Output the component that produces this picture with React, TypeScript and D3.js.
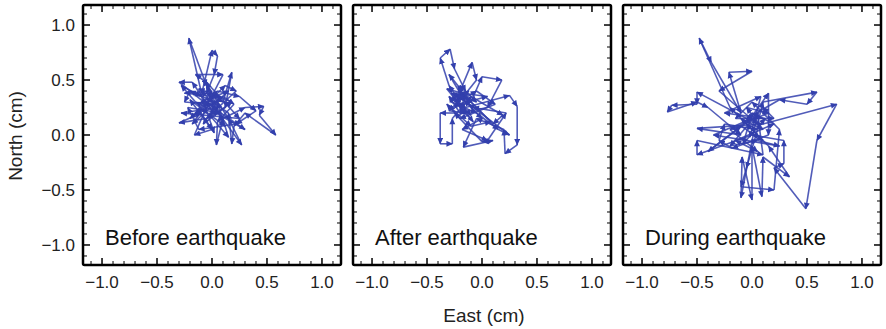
import React from "react";
import * as d3 from "d3";

const panelTitles = ["Before earthquake", "After earthquake", "During earthquake"];
const tickValues = [-1.0, -0.5, 0.0, 0.5, 1.0];
const tickLabels = ["\u22121.0", "\u22120.5", "0.0", "0.5", "1.0"];

const beforePts: [number, number][] = [
  [0.0, 0.3], [-0.1, 0.4], [-0.21, 0.88], [-0.05, 0.45], [0.05, 0.2], [-0.15, 0.3], [-0.28, 0.45],
  [-0.1, 0.35], [0.0, 0.77], [0.05, 0.72], [0.02, 0.55], [-0.05, 0.38], [0.1, 0.3], [0.18, 0.57],
  [0.12, 0.25], [-0.05, 0.15], [-0.3, 0.11], [-0.1, 0.2], [0.0, 0.05], [-0.16, 0.0], [-0.05, 0.25],
  [0.1, 0.35], [0.2, 0.28], [0.05, 0.12], [0.04, -0.09], [0.1, 0.15], [0.3, 0.25], [0.47, 0.26],
  [0.43, 0.18], [0.58, 0.0], [0.3, 0.2], [0.2, 0.08], [0.18, -0.08], [0.15, 0.2], [-0.02, 0.32],
  [-0.2, 0.4], [-0.25, 0.3], [0.0, 0.28], [0.27, -0.09], [0.15, 0.15], [-0.08, 0.5], [-0.15, 0.55],
  [0.1, 0.55], [-0.03, 0.3], [-0.2, 0.15], [0.05, 0.4], [0.25, 0.35], [0.4, 0.22], [0.22, 0.1],
  [-0.12, 0.05], [-0.22, 0.25], [0.08, 0.2], [0.3, 0.05], [0.0, 0.22], [-0.18, 0.48], [-0.3, 0.48],
  [-0.05, 0.28], [0.12, 0.45], [0.22, 0.4], [-0.02, 0.18], [0.15, -0.02], [0.05, 0.3],
  [-0.15, 0.2], [0.0, 0.4], [-0.25, 0.38], [0.08, 0.35], [-0.08, 0.1], [0.18, 0.3], [-0.12, 0.42],
  [0.02, 0.02], [-0.2, 0.32], [0.12, 0.08], [-0.05, 0.48], [0.25, 0.15], [-0.28, 0.2], [0.05, 0.25],
  [-0.1, 0.3], [0.15, 0.4], [-0.18, 0.1], [0.0, 0.35],
];

const afterPts: [number, number][] = [
  [-0.2, 0.3], [-0.3, 0.45], [-0.38, 0.7], [-0.29, 0.78], [-0.25, 0.6], [-0.15, 0.4], [-0.22, 0.35],
  [-0.09, 0.66], [-0.05, 0.5], [-0.25, 0.25], [-0.1, 0.3], [0.0, 0.53], [0.18, 0.5], [0.05, 0.25],
  [-0.2, 0.2], [-0.3, 0.35], [-0.15, 0.25], [0.25, 0.36], [0.32, 0.26], [0.32, -0.09], [0.21, -0.17],
  [0.2, 0.05], [-0.05, 0.15], [-0.17, -0.11], [0.1, -0.05], [0.0, -0.06], [-0.25, 0.2], [-0.38, 0.2],
  [-0.38, -0.08], [-0.27, -0.08], [-0.27, 0.15], [-0.1, 0.35], [0.19, 0.18], [0.1, 0.1], [-0.2, 0.4],
  [-0.28, 0.3], [-0.05, 0.2], [0.15, 0.05], [0.25, 0.0], [-0.12, 0.28], [-0.22, 0.45], [-0.3, 0.55],
  [-0.15, 0.3], [0.0, 0.15], [-0.18, 0.05], [0.05, -0.05], [0.22, 0.2], [-0.08, 0.25], [-0.25, 0.38],
  [-0.18, 0.32], [-0.05, 0.4], [0.12, 0.28], [-0.2, 0.15], [-0.32, 0.28], [-0.1, 0.08], [0.08, 0.12],
  [-0.15, 0.35], [-0.25, 0.3], [-0.12, 0.4], [-0.3, 0.22], [-0.15, 0.2], [-0.2, 0.45], [-0.05, 0.3],
  [-0.28, 0.38], [-0.1, 0.18], [-0.22, 0.28], [0.05, 0.35], [-0.18, 0.38], [-0.32, 0.42], [-0.08, 0.12],
  [-0.2, 0.25],
];

const duringPts: [number, number][] = [
  [0.0, 0.05], [-0.2, 0.25], [-0.48, 0.88], [-0.37, 0.66], [-0.1, 0.2], [-0.21, 0.57], [0.0, 0.58],
  [-0.3, 0.4], [0.05, 0.1], [0.1, 0.3], [0.59, 0.39], [0.5, 0.28], [0.25, 0.32], [-0.05, 0.15],
  [-0.5, 0.39], [-0.5, 0.28], [-0.73, 0.27], [-0.77, 0.21], [-0.5, 0.3], [-0.4, 0.25], [-0.1, 0.0],
  [-0.5, 0.06], [0.1, 0.1], [0.77, 0.28], [0.59, -0.05], [0.49, -0.67], [0.2, -0.3], [0.29, -0.26],
  [0.29, -0.05], [0.0, 0.0], [-0.5, -0.18], [-0.5, -0.05], [0.1, -0.18], [0.05, 0.2], [-0.1, -0.57],
  [-0.09, -0.2], [0.0, -0.59], [0.0, -0.1], [0.09, -0.56], [0.1, -0.2], [0.34, -0.38], [0.15, -0.1],
  [-0.05, 0.1], [0.15, 0.38], [0.15, 0.0], [-0.18, -0.12], [-0.3, -0.05], [-0.25, 0.1], [0.05, 0.05],
  [-0.05, -0.3], [-0.1, -0.47], [0.2, -0.5], [0.25, 0.05], [0.0, 0.3], [-0.15, 0.15], [0.2, 0.15],
  [0.1, 0.25], [-0.2, -0.1], [0.05, -0.05], [0.25, -0.1], [-0.35, 0.0], [0.0, 0.15], [-0.4, -0.15],
  [-0.1, 0.08], [0.1, -0.05], [-0.1, 0.15], [0.1, 0.05], [-0.05, 0.25], [0.15, 0.2], [-0.2, 0.05],
  [0.05, -0.15], [-0.15, -0.05], [0.2, 0.1], [0.0, 0.2], [-0.08, -0.08], [0.12, 0.15], [-0.25, 0.2],
  [0.08, 0.35], [-0.02, -0.02],
];

const panelData = [beforePts, afterPts, duringPts];

const W = 886;
const H = 329;
const PW = 258;
const PH = 260;
const TOP = 5;
const panelLefts = [83, 353, 623];
const BLUE = "#3340ad";
const FONT = "'Liberation Sans', Arial, Helvetica, sans-serif";

export default function App() {
  const x = d3.scaleLinear().domain([-1.173, 1.173]).range([0, PW]);
  const y = d3.scaleLinear().domain([-1.182, 1.182]).range([PH, 0]);
  const minor = d3.range(-11, 12).map((i) => i / 10).filter((v) => Math.abs(Math.round(v * 10) % 5) !== 0);

  return (
    <svg width={W} height={H} style={{ position: "absolute", left: 0, top: 0, background: "#fff" }}>
      <defs>
        <marker id="arrowHead" viewBox="0 0 10 10" refX="9" refY="5" markerWidth="7" markerHeight="6.5"
          orient="auto" markerUnits="userSpaceOnUse">
          <path d="M0,0.5 L10,5 L0,9.5 z" fill={BLUE} />
        </marker>
      </defs>
      <rect x={0} y={0} width={W} height={H} fill="#fff" />
      {panelData.map((pts, pi) => {
        const left = panelLefts[pi];
        return (
          <g key={pi} transform={`translate(${left},${TOP})`}>
            {pts.slice(1).map((p, i) => {
              const a = pts[i];
              return (
                <line key={i} x1={x(a[0])} y1={y(a[1])} x2={x(p[0])} y2={y(p[1])}
                  stroke={BLUE} strokeWidth={1.6} strokeOpacity={0.85} markerEnd="url(#arrowHead)" />
              );
            })}
            {minor.map((v, i) => (
              <g key={"m" + i} stroke="#000" strokeWidth={1}>
                <line x1={x(v)} x2={x(v)} y1={PH} y2={PH - 4} />
                <line x1={x(v)} x2={x(v)} y1={0} y2={4} />
                <line x1={0} x2={4} y1={y(v)} y2={y(v)} />
                <line x1={PW} x2={PW - 4} y1={y(v)} y2={y(v)} />
              </g>
            ))}
            {tickValues.map((v, i) => (
              <g key={"M" + i} stroke="#000" strokeWidth={1.5}>
                <line x1={x(v)} x2={x(v)} y1={PH} y2={PH - 7} />
                <line x1={x(v)} x2={x(v)} y1={0} y2={7} />
                <line x1={0} x2={7} y1={y(v)} y2={y(v)} />
                <line x1={PW} x2={PW - 7} y1={y(v)} y2={y(v)} />
              </g>
            ))}
            <rect x={0} y={0} width={PW} height={PH} fill="none" stroke="#000" strokeWidth={2.5} rx={1.5} />
            {tickValues.map((v, i) => (
              <text key={"xl" + i} x={x(v)} y={PH + 23} textAnchor="middle" fontFamily={FONT}
                fontSize={17} fill="#222">{tickLabels[i]}</text>
            ))}
            {pi === 0 && tickValues.map((v, i) => (
              <text key={"yl" + i} x={-8} y={y(v) + 6} textAnchor="end" fontFamily={FONT}
                fontSize={17} fill="#222">{tickLabels[i]}</text>
            ))}
            <text x={22} y={240} fontFamily={FONT} fontSize={22} fill="#111">{panelTitles[pi]}</text>
          </g>
        );
      })}
      <text x={484} y={322} textAnchor="middle" fontFamily={FONT} fontSize={19} fill="#222">East (cm)</text>
      <text transform="translate(22,136) rotate(-90)" textAnchor="middle" fontFamily={FONT} fontSize={19}
        fill="#222">North (cm)</text>
    </svg>
  );
}
